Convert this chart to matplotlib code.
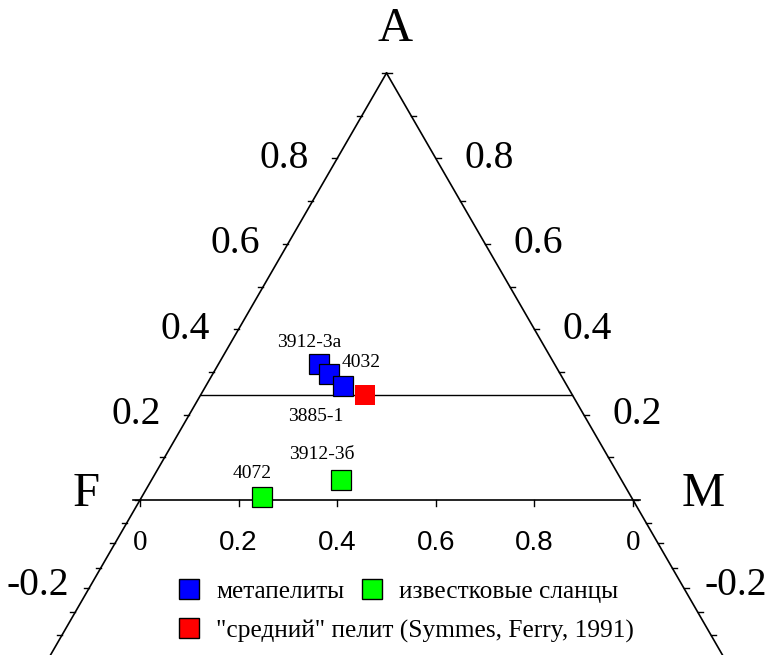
''' AFM ternary diagram (A top, F left, M right) with metapelite and
    calcareous schist samples. Saves out.png, 768x655 px.
'''

import numpy as np
import matplotlib
matplotlib.use('Agg')
import matplotlib.pyplot as plt
from matplotlib.lines import Line2D

#___ Data: A and M fractions (F = 1 - A - M) ___#
meta_names = ['3912-3a', '3885-1', '4032']
meta_A = [0.319, 0.296, 0.268]
meta_M = [0.203, 0.235, 0.278]

calc_names = ['4072', '3912-3б']
calc_A = [0.008, 0.048]
calc_M = [0.243, 0.383]

pelite_A = [0.247]
pelite_M = [0.332]
line_A = 0.246          # line through the average pelite, parallel to F-M

a_ticks = [1.0, 0.9, 0.8, 0.7, 0.6, 0.5, 0.4, 0.3, 0.2, 0.1, 0.0,
           -0.054, -0.1, -0.16, -0.206, -0.262, -0.316]
a_labels = [0.8, 0.6, 0.4, 0.2, -0.2]
m_ticks = [0.0, 0.2, 0.4, 0.6, 0.8, 1.0]
m_ticklabels = ['0', '0.2', '0.4', '0.6', '0.8', '0']

legend_labels = ['метапелиты', 'известковые сланцы',
                 '"средний" пелит (Symmes, Ferry, 1991)']

SERIF = 'Liberation Serif'
SANS = 'Liberation Sans'
PX = 493.0              # pixels per unit triangle side
S3 = np.sqrt(3) / 2

def tern(A, M):
	''' ternary (A, M) -> cartesian, F corner at origin '''
	A = np.asarray(A, dtype=float); M = np.asarray(M, dtype=float)
	return M + A / 2, A * S3

def pt(px):
	return px * 72.0 / 100.0

fig = plt.figure(figsize=(7.68, 6.55), dpi=100)
ax = fig.add_axes([0, 0, 1, 1])
ax.set_xlim(-140 / PX, 628 / PX)
ax.set_ylim(-155 / PX, 500 / PX)
ax.axis('off')

lw = 1.2
# --- triangle sides, extended below the F-M base ---
edgeA = np.array([1.0, -0.5])
ax.plot(*tern(edgeA, 0 * edgeA), color='k', lw=lw)
ax.plot(*tern(edgeA, 1 - edgeA), color='k', lw=lw)
ax.plot([-7 / PX, 1 + 7 / PX], [0, 0], color='k', lw=lw)

# --- ticks ---
tl = 5 / PX
for a in a_ticks:
	x, y = tern(a, 0)
	ax.plot([x - tl, x], [y, y], color='k', lw=1)
	x, y = tern(a, 1 - a)
	ax.plot([x, x + tl], [y, y], color='k', lw=1)
for m in m_ticks:
	ax.plot([m, m], [0, -6 / PX], color='k', lw=1)

# --- tick labels ---
for a in a_labels:
	lab = '%.1f' % a
	ax.annotate(lab, tern(a, 0), xytext=(pt(-53), 0), textcoords='offset points',
	            ha='center', va='center', family=SERIF, fontsize=28.5)
	ax.annotate(lab, tern(a, 1 - a), xytext=(pt(53), 0), textcoords='offset points',
	            ha='center', va='center', family=SERIF, fontsize=28.5)
for m, lab in zip(m_ticks, m_ticklabels):
	if lab == '0':
		ax.annotate(lab, (m, 0), xytext=(0, pt(-43)), textcoords='offset points',
		            ha='center', va='center', family=SERIF, fontsize=21)
	else:
		ax.annotate(lab, (m, 0), xytext=(0, pt(-43)), textcoords='offset points',
		            ha='center', va='center', family=SANS, fontsize=20)

# --- corner names ---
ax.annotate('A', tern(1, 0), xytext=(pt(9), pt(44)), textcoords='offset points',
            ha='center', va='center', family=SERIF, fontsize=35)
ax.annotate('F', tern(0, 0), xytext=(pt(-54), pt(6)), textcoords='offset points',
            ha='center', va='center', family=SERIF, fontsize=35)
ax.annotate('M', tern(0, 1), xytext=(pt(70), pt(6)), textcoords='offset points',
            ha='center', va='center', family=SERIF, fontsize=35)

# --- reference line through average pelite ---
x0, y0 = tern(line_A, 0)
x1, y1 = tern(line_A, 1 - line_A)
ax.plot([x0, x1], [y0, y1], color='k', lw=1)

# --- samples ---
ms = 13.7
mx, my = tern(meta_A, meta_M)
ax.plot(mx, my, 's', ms=ms, mfc='#0000ff', mec='k', mew=0.9, zorder=5)
cx, cy = tern(calc_A, calc_M)
ax.plot(cx, cy, 's', ms=ms, mfc='#00ff00', mec='k', mew=0.9, zorder=5)
px_, py_ = tern(pelite_A, pelite_M)
ax.plot(px_, py_, 's', ms=15, mfc='#ff0000', mec='#ff0000', mew=0, zorder=5)

# label offsets in pixels (right, up)
meta_off = [(-10, 21.5), (-13, -42.4), (17.7, 22.7)]
calc_off = [(-9.8, 23), (-19, 24.7)]
for name, x, y, (dx, dy) in zip(meta_names, mx, my, meta_off):
	ax.annotate(name, (x, y), xytext=(pt(dx), pt(dy)), textcoords='offset points',
	            ha='center', va='center', family=SERIF, fontsize=14)
for name, x, y, (dx, dy) in zip(calc_names, cx, cy, calc_off):
	ax.annotate(name, (x, y), xytext=(pt(dx), pt(dy)), textcoords='offset points',
	            ha='center', va='center', family=SERIF, fontsize=14)

# --- legend, two rows ---
def key(c):
	return Line2D([], [], ls='none', marker='s', ms=15, mfc=c, mec='k', mew=1)

lprops = dict(frameon=False, prop={'family': SERIF, 'size': 18.3}, handlelength=0.85,
              handletextpad=0.65, columnspacing=0.65, borderpad=0, borderaxespad=0,
              loc='center left')
fig.legend([key('#0000ff'), key('#00ff00')], legend_labels[:2], ncol=2,
           bbox_to_anchor=(178 / 768., 1 - 592 / 655.), **lprops)
fig.legend([key('#ff0000')], legend_labels[2:],
           bbox_to_anchor=(178 / 768., 1 - 631 / 655.), **lprops)

plt.savefig('out.png', dpi=100)
